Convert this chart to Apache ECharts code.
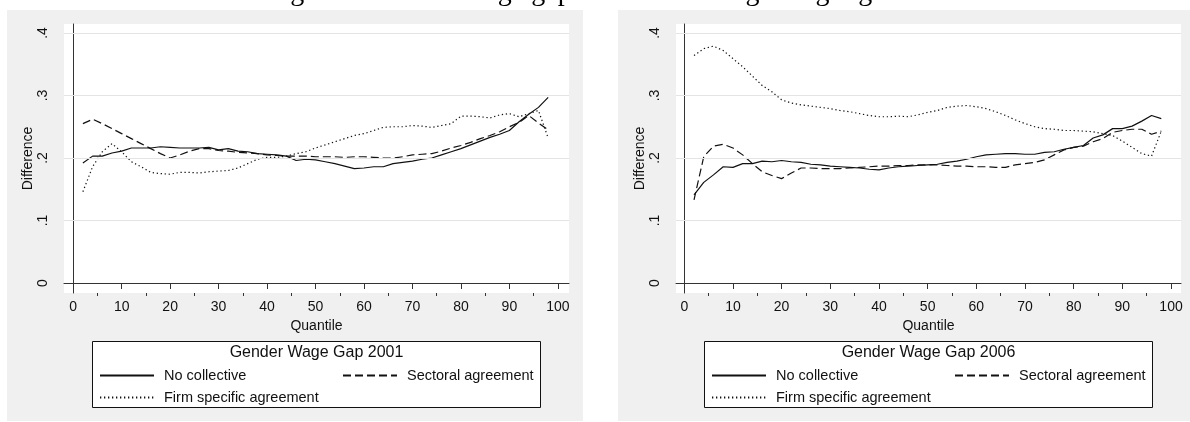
<!DOCTYPE html>
<html>
<head>
<meta charset="utf-8">
<title>Gender wage gap in different bargaining regimes</title>
<script src="https://cdn.jsdelivr.net/npm/echarts@6.0.0/dist/echarts.min.js"></script>
<style>
  html, body { margin: 0; padding: 0; background: #fff; }
  #chart { width: 1190px; height: 422px; }
</style>
</head>
<body>
<div id="chart"></div>
<script>
// quantiles where the gap was estimated
var quantiles = [2, 4, 6, 8, 10, 12, 14, 16, 18, 20, 22, 24, 26, 28, 30, 32, 34, 36, 38, 40,
  42, 44, 46, 48, 50, 52, 54, 56, 58, 60, 62, 64, 66, 68, 70, 72, 74, 76, 78, 80,
  82, 84, 86, 88, 90, 92, 94, 96, 98];

var xTicks = [0, 10, 20, 30, 40, 50, 60, 70, 80, 90, 100];
var xMinorTicks = [5, 15, 25, 35, 45, 55, 65, 75, 85, 95];
var yTicks = [0, 0.1, 0.2, 0.3, 0.4];
var gridValues = [0.1, 0.2, 0.3, 0.4];

var seriesNames = ['No collective', 'Sectoral agreement', 'Firm specific agreement'];
var panelTitles = ['Gender Wage Gap 2001', 'Gender Wage Gap 2006'];

// 2001
var noColl2001 = [0.192, 0.203, 0.203, 0.208, 0.211, 0.216, 0.216, 0.216, 0.218, 0.217,
  0.216, 0.216, 0.216, 0.217, 0.213, 0.215, 0.211, 0.210, 0.207, 0.206,
  0.205, 0.203, 0.196, 0.198, 0.197, 0.194, 0.191, 0.187, 0.183, 0.184,
  0.186, 0.186, 0.191, 0.193, 0.195, 0.198, 0.200, 0.205, 0.210, 0.215,
  0.221, 0.227, 0.233, 0.238, 0.244, 0.258, 0.270, 0.281, 0.297];
var sect2001 = [0.255, 0.262, 0.255, 0.247, 0.239, 0.231, 0.223, 0.215, 0.207, 0.200,
  0.205, 0.211, 0.215, 0.215, 0.212, 0.211, 0.209, 0.208, 0.207, 0.205,
  0.204, 0.203, 0.203, 0.203, 0.202, 0.202, 0.202, 0.201, 0.202, 0.202,
  0.201, 0.200, 0.200, 0.202, 0.205, 0.206, 0.207, 0.211, 0.216, 0.220,
  0.225, 0.231, 0.236, 0.242, 0.250, 0.257, 0.268, 0.256, 0.245];
var firm2001 = [0.146, 0.186, 0.210, 0.223, 0.210, 0.194, 0.186, 0.177, 0.175, 0.174,
  0.177, 0.177, 0.176, 0.178, 0.179, 0.180, 0.184, 0.191, 0.198, 0.201,
  0.201, 0.203, 0.207, 0.210, 0.216, 0.221, 0.226, 0.231, 0.236, 0.239,
  0.244, 0.249, 0.250, 0.250, 0.252, 0.251, 0.249, 0.252, 0.255, 0.267,
  0.267, 0.266, 0.264, 0.269, 0.271, 0.266, 0.271, 0.276, 0.232];

// 2006
var noColl2006 = [0.141, 0.161, 0.173, 0.186, 0.185, 0.191, 0.191, 0.195, 0.194, 0.196,
  0.194, 0.193, 0.190, 0.189, 0.187, 0.186, 0.185, 0.184, 0.182, 0.181,
  0.184, 0.186, 0.187, 0.188, 0.189, 0.190, 0.193, 0.195, 0.198, 0.202,
  0.205, 0.206, 0.207, 0.207, 0.206, 0.206, 0.209, 0.210, 0.214, 0.217,
  0.220, 0.232, 0.237, 0.247, 0.247, 0.251, 0.259, 0.268, 0.263];
var sect2006 = [0.133, 0.202, 0.219, 0.222, 0.216, 0.205, 0.191, 0.178, 0.172, 0.167,
  0.176, 0.184, 0.184, 0.183, 0.183, 0.183, 0.184, 0.185, 0.186, 0.187,
  0.187, 0.188, 0.188, 0.189, 0.189, 0.189, 0.188, 0.187, 0.187, 0.186,
  0.186, 0.185, 0.185, 0.189, 0.191, 0.193, 0.197, 0.205, 0.213, 0.217,
  0.219, 0.226, 0.231, 0.241, 0.244, 0.246, 0.246, 0.238, 0.243];
var firm2006 = [0.364, 0.375, 0.379, 0.372, 0.359, 0.346, 0.331, 0.316, 0.306, 0.293,
  0.288, 0.285, 0.283, 0.281, 0.279, 0.276, 0.274, 0.271, 0.268, 0.266,
  0.266, 0.267, 0.266, 0.269, 0.273, 0.276, 0.281, 0.283, 0.284, 0.282,
  0.279, 0.274, 0.268, 0.261, 0.255, 0.250, 0.247, 0.246, 0.244, 0.244,
  0.243, 0.242, 0.239, 0.236, 0.227, 0.217, 0.207, 0.203, 0.243];

var panelData = [[noColl2001, sect2001, firm2001], [noColl2006, sect2006, firm2006]];

var FONT = '"Liberation Sans", Arial, sans-serif';
var INK = '#111';
var lineTypes = ['solid', [8, 4], [1.3, 2.7]];

var panelLeft = [64, 676];
var xRange = [[-1.9, 102.3], [-1.7, 102.05]];

function pairs(vals) {
  return quantiles.map(function (q, i) { return [q, vals[i]]; });
}

function yLabel(v) {
  return v === 0 ? '0' : v.toFixed(1).replace(/^0/, '');
}

var grids = [], xAxes = [], yAxes = [], series = [], legends = [], graphics = [];

for (var p = 0; p < 2; p++) {
  var left = panelLeft[p];
  var shift = p * 612;

  grids.push({
    left: left, top: 24, width: 505, height: 269,
    show: true, backgroundColor: '#fff', borderWidth: 0
  });

  xAxes.push({
    gridIndex: p, type: 'value', position: 'bottom',
    min: xRange[p][0], max: xRange[p][1],
    axisLine: { show: true, lineStyle: { color: '#333', width: 1 } },
    axisTick: { show: true, customValues: xTicks, length: 6, lineStyle: { color: '#333' } },
    axisLabel: { customValues: xTicks, margin: 7, color: '#111', fontSize: 14, fontFamily: FONT },
    splitLine: { show: false },
    name: 'Quantile', nameLocation: 'middle', nameGap: 23,
    nameTextStyle: { color: '#111', fontSize: 14, fontFamily: FONT }
  });
  xAxes.push({
    gridIndex: p, type: 'value', position: 'bottom',
    min: xRange[p][0], max: xRange[p][1],
    axisLine: { show: false },
    axisTick: { show: true, customValues: xMinorTicks, length: 3, lineStyle: { color: '#333' } },
    axisLabel: { show: false },
    splitLine: { show: false }
  });

  yAxes.push({
    gridIndex: p, type: 'value',
    min: -0.016, max: 0.4144,
    axisLine: { show: true, lineStyle: { color: '#333', width: 1 } },
    axisTick: { show: true, customValues: yTicks, length: 6, lineStyle: { color: '#333' } },
    axisLabel: { customValues: yTicks, rotate: 90, margin: 14, formatter: yLabel,
      color: '#111', fontSize: 14, fontFamily: FONT },
    splitLine: { show: false },
    name: 'Difference', nameLocation: 'middle', nameGap: 27,
    nameTextStyle: { color: '#111', fontSize: 14, fontFamily: FONT }
  });

  // light grid lines at the labelled values, as Stata draws them
  series.push({
    name: 'grid' + p, type: 'line', xAxisIndex: p * 2, yAxisIndex: p,
    data: [], z: 1, silent: true,
    markLine: {
      silent: true, symbol: 'none', label: { show: false },
      lineStyle: { color: '#e4e4e4', type: 'solid', width: 1 },
      emphasis: { disabled: true },
      data: gridValues.map(function (v) { return { yAxis: v }; })
    }
  });

  for (var s = 0; s < 3; s++) {
    series.push({
      name: seriesNames[s], type: 'line', xAxisIndex: p * 2, yAxisIndex: p,
      data: pairs(panelData[p][s]),
      symbol: 'none', smooth: false, z: 3,
      color: INK,
      lineStyle: { color: INK, width: 1.2, type: lineTypes[s] },
      emphasis: { disabled: true }
    });
  }

  var legendBase = {
    orient: 'horizontal', padding: 0, itemWidth: 54, itemHeight: 14,
    selectedMode: false,
    itemStyle: { opacity: 0, borderWidth: 0 },
    textStyle: { color: '#111', fontSize: 14.5, fontFamily: FONT, padding: [0, 0, 0, 5] }
  };
  legends.push(Object.assign({}, legendBase, { data: [seriesNames[0]], left: 99 + shift, top: 368 }));
  legends.push(Object.assign({}, legendBase, { data: [seriesNames[1]], left: 342 + shift, top: 368 }));
  legends.push(Object.assign({}, legendBase, { data: [seriesNames[2]], left: 99 + shift, top: 390 }));

  // panel background, legend frame and legend title
  graphics.push({
    type: 'rect', z: -10, silent: true,
    shape: { x: p === 0 ? 7 : 618, y: 10, width: p === 0 ? 576 : 572, height: 411 },
    style: { fill: '#f0f0f0' }
  });
  graphics.push({
    type: 'rect', z: 1, silent: true,
    shape: { x: 92.5 + shift, y: 341.5, width: 448, height: 66 },
    style: { fill: '#fff', stroke: '#111', lineWidth: 1 }
  });
  graphics.push({
    type: 'text', z: 2, silent: true,
    x: 316.5 + shift, y: 353,
    style: { text: panelTitles[p], fill: '#111', font: '16px ' + FONT,
      align: 'center', verticalAlign: 'middle' }
  });
}

graphics.push({
  type: 'text', z: 5, silent: true,
  x: 596, y: -7,
  style: { text: 'Figure 6: Gender wage gap in different bargaining regimes',
    fill: '#000', font: '28px "Liberation Serif", "Times New Roman", serif',
    align: 'center', verticalAlign: 'middle' }
});

var chart = echarts.init(document.getElementById('chart'), null, { renderer: 'canvas' });
chart.setOption({
  animation: false,
  backgroundColor: '#fff',
  grid: grids,
  xAxis: xAxes,
  yAxis: yAxes,
  legend: legends,
  tooltip: { show: false },
  graphic: { elements: graphics },
  series: series
});
</script>
</body>
</html>
